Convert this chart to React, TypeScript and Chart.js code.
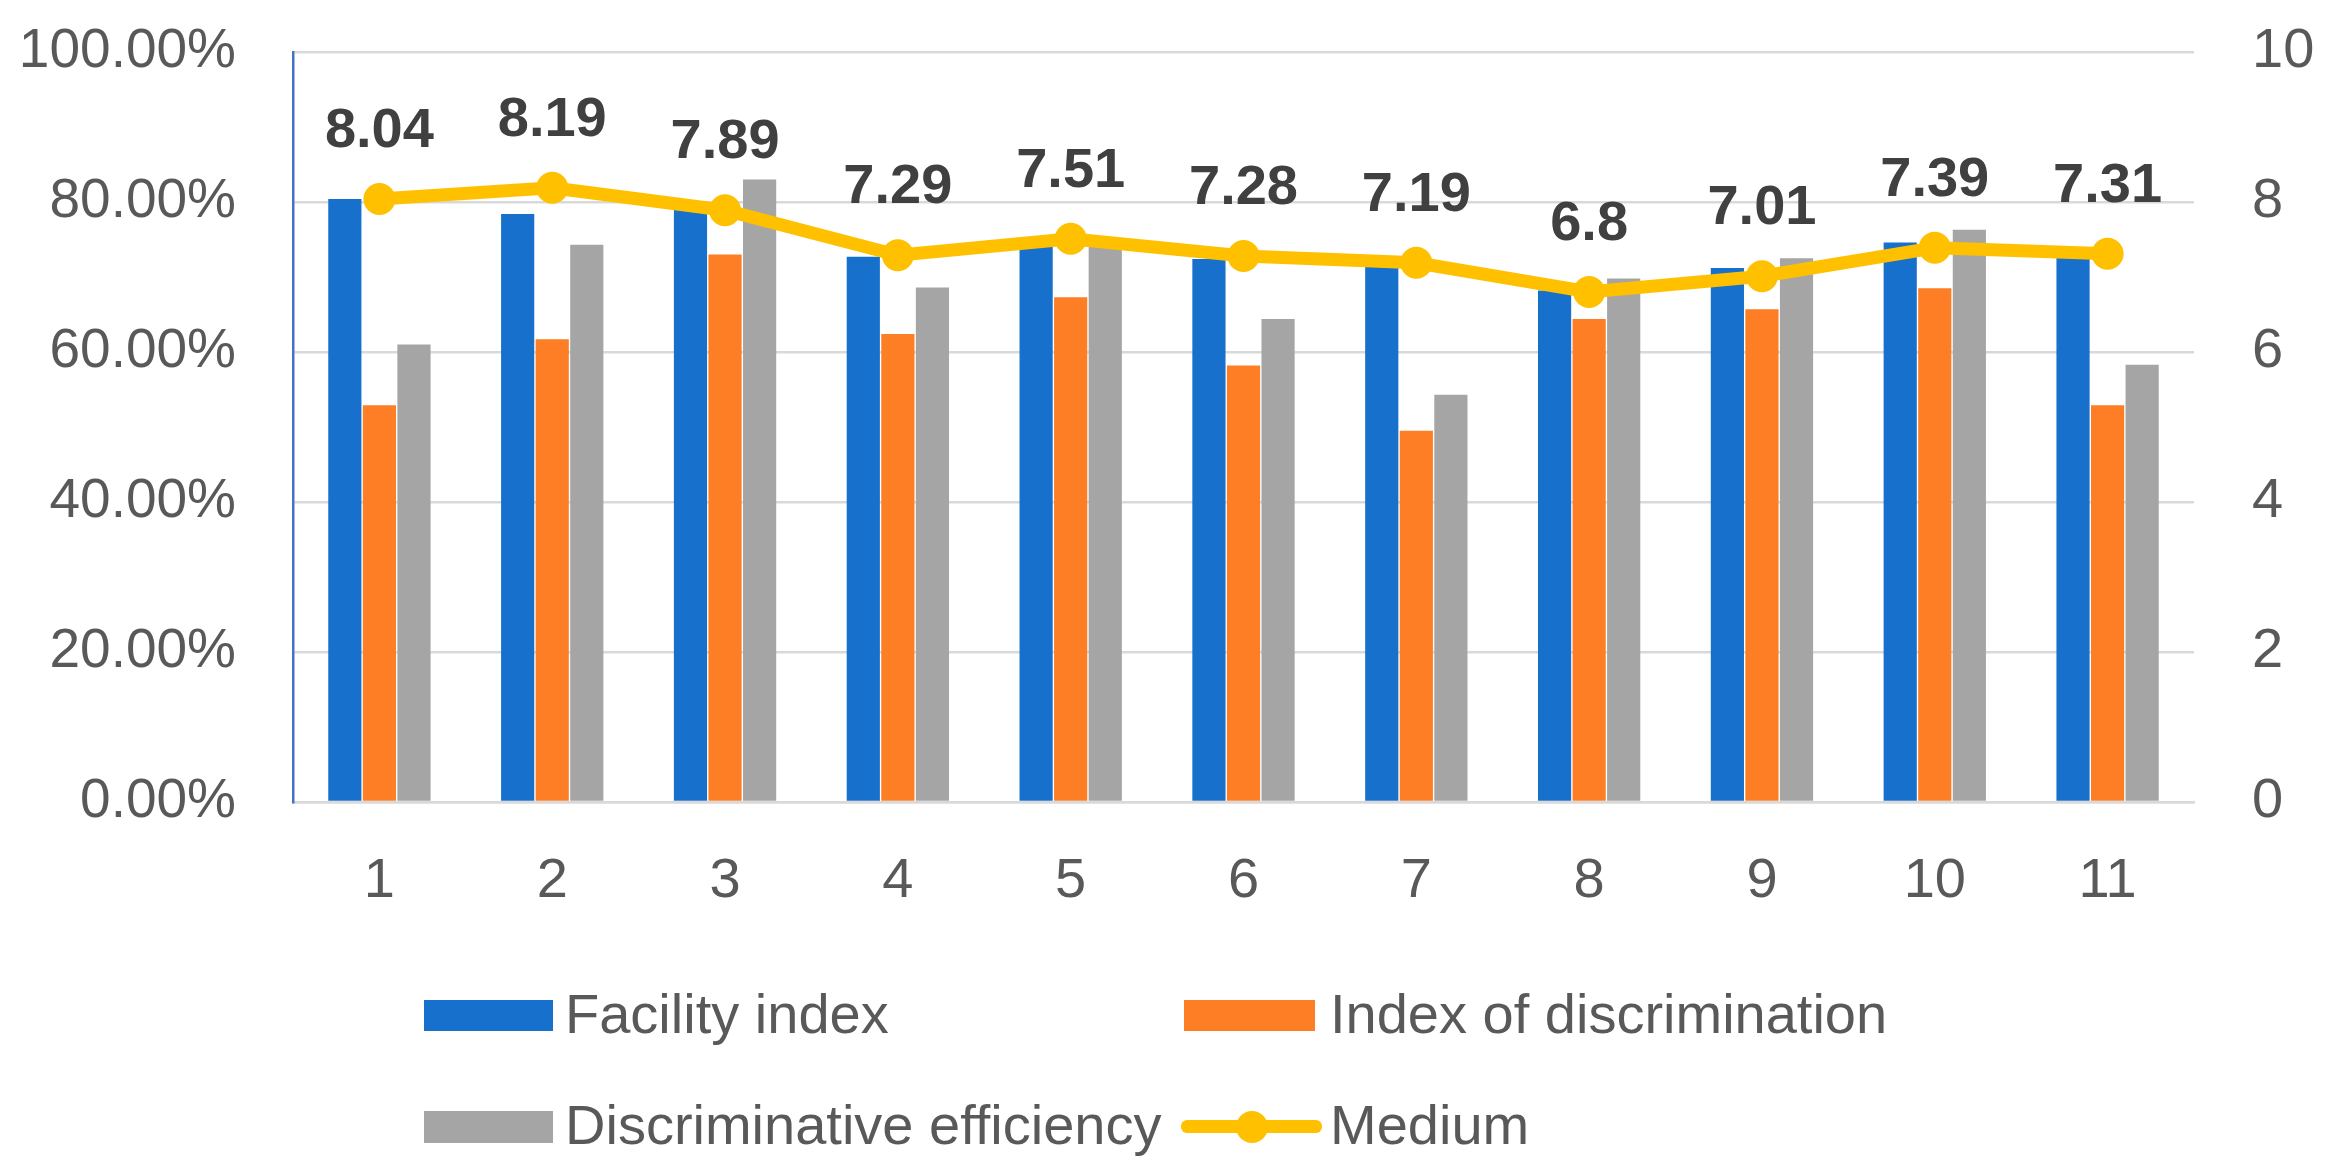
import React, { useEffect, useRef } from 'react';
import { Chart, registerables } from 'chart.js';

Chart.register(...registerables);

const FONT = '"Liberation Sans", Arial, sans-serif';

const categories = ['1', '2', '3', '4', '5', '6', '7', '8', '9', '10', '11'];
const facilityIndex = [80.4, 78.4, 79.0, 72.7, 74.2, 72.4, 71.6, 68.2, 71.2, 74.6, 72.8];
const indexOfDiscrimination = [52.9, 61.7, 73.0, 62.4, 67.3, 58.2, 49.5, 64.4, 65.7, 68.5, 52.9];
const discriminativeEfficiency = [61.0, 74.3, 83.0, 68.6, 75.0, 64.4, 54.3, 69.8, 72.5, 76.3, 58.3];
const medium = [8.04, 8.19, 7.89, 7.29, 7.51, 7.28, 7.19, 6.8, 7.01, 7.39, 7.31];

const seriesNames = ['Facility index', 'Index of discrimination', 'Discriminative efficiency', 'Medium'];
const seriesColors = ['#1670CC', '#FD7E24', '#A5A5A5', '#FFC000'];

const pointLabels = {
  id: 'pointLabels',
  afterDatasetsDraw(chart: any) {
    const meta = chart.getDatasetMeta(3);
    const ctx = chart.ctx;
    ctx.save();
    ctx.font = `bold 56px ${FONT}`;
    ctx.fillStyle = '#404040';
    ctx.textAlign = 'center';
    ctx.textBaseline = 'alphabetic';
    meta.data.forEach((pt: any, i: number) => {
      ctx.fillText(String(medium[i]), pt.x, pt.y - 52);
    });
    ctx.restore();
  },
};

export default function App() {
  const canvasRef = useRef<HTMLCanvasElement | null>(null);

  useEffect(() => {
    if (!canvasRef.current) return;
    const barCommon = {
      type: 'bar' as const,
      yAxisID: 'y',
      order: 1,
      categoryPercentage: 0.6,
      barPercentage: 0.96,
      borderWidth: 0,
    };
    const chart = new Chart(canvasRef.current, {
      type: 'bar',
      data: {
        labels: categories,
        datasets: [
          { ...barCommon, label: seriesNames[0], data: facilityIndex, backgroundColor: seriesColors[0] },
          { ...barCommon, label: seriesNames[1], data: indexOfDiscrimination, backgroundColor: seriesColors[1] },
          { ...barCommon, label: seriesNames[2], data: discriminativeEfficiency, backgroundColor: seriesColors[2] },
          {
            type: 'line',
            label: seriesNames[3],
            data: medium,
            yAxisID: 'y1',
            order: 0,
            borderColor: seriesColors[3],
            backgroundColor: seriesColors[3],
            borderWidth: 13,
            pointRadius: 16,
            pointBorderWidth: 0,
            pointBackgroundColor: seriesColors[3],
            tension: 0,
          } as any,
        ],
      },
      options: {
        animation: false,
        responsive: true,
        maintainAspectRatio: false,
        layout: { padding: { top: 52, left: 0, right: 0, bottom: 0 } },
        plugins: { legend: { display: false }, tooltip: { enabled: false } },
        scales: {
          x: {
            grid: { display: false },
            border: { display: true, color: '#D9D9D9', width: 2.5 },
            ticks: { color: '#595959', font: { family: FONT, size: 56 }, padding: 38 },
            afterFit: (s: any) => { s.height = 158; },
          },
          y: {
            position: 'left',
            min: 0,
            max: 100,
            ticks: {
              stepSize: 20,
              color: '#595959',
              font: { family: FONT, size: 55 },
              padding: 57,
              callback: (v: any) => Number(v).toFixed(2) + '%',
            },
            grid: { color: '#D9D9D9', lineWidth: 2.5, drawTicks: false },
            border: { display: true, color: '#4472C4', width: 2.5 },
            afterFit: (s: any) => { s.width = 293; s.paddingTop = 0; s.paddingBottom = 0; },
          },
          y1: {
            position: 'right',
            min: 0,
            max: 10,
            ticks: {
              stepSize: 2,
              color: '#595959',
              font: { family: FONT, size: 56 },
              padding: 58,
            },
            grid: { display: false, drawTicks: false },
            border: { display: false },
            afterFit: (s: any) => { s.width = 136; s.paddingTop = 0; s.paddingBottom = 0; },
          },
        },
      },
      plugins: [pointLabels],
    });
    return () => chart.destroy();
  }, []);

  const textStyle: React.CSSProperties = {
    position: 'absolute',
    fontFamily: FONT,
    fontSize: 56,
    color: '#595959',
    lineHeight: '64px',
    whiteSpace: 'nowrap',
  };

  return (
    <div style={{ position: 'fixed', left: 0, top: 0, width: 2330, height: 1176, background: '#fff', overflow: 'hidden' }}>
      <div style={{ position: 'absolute', left: 0, top: 0, width: 2330, height: 960 }}>
        <canvas ref={canvasRef} />
      </div>
      {/* legend */}
      <div style={{ position: 'absolute', left: 424, top: 1000, width: 129, height: 31, background: seriesColors[0] }} />
      <div style={{ ...textStyle, left: 565, top: 1016 - 34 }}>{seriesNames[0]}</div>
      <div style={{ position: 'absolute', left: 1184, top: 1000, width: 131, height: 31, background: seriesColors[1] }} />
      <div style={{ ...textStyle, left: 1330, top: 1016 - 34 }}>{seriesNames[1]}</div>
      <div style={{ position: 'absolute', left: 424, top: 1111, width: 129, height: 32, background: seriesColors[2] }} />
      <div style={{ ...textStyle, left: 565, top: 1127 - 34 }}>{seriesNames[2]}</div>
      <div style={{ position: 'absolute', left: 1181, top: 1120, width: 141, height: 13, background: seriesColors[3], borderRadius: 6 }} />
      <div style={{ position: 'absolute', left: 1236, top: 1111, width: 32, height: 32, background: seriesColors[3], borderRadius: 16 }} />
      <div style={{ ...textStyle, left: 1330, top: 1127 - 34 }}>{seriesNames[3]}</div>
    </div>
  );
}
